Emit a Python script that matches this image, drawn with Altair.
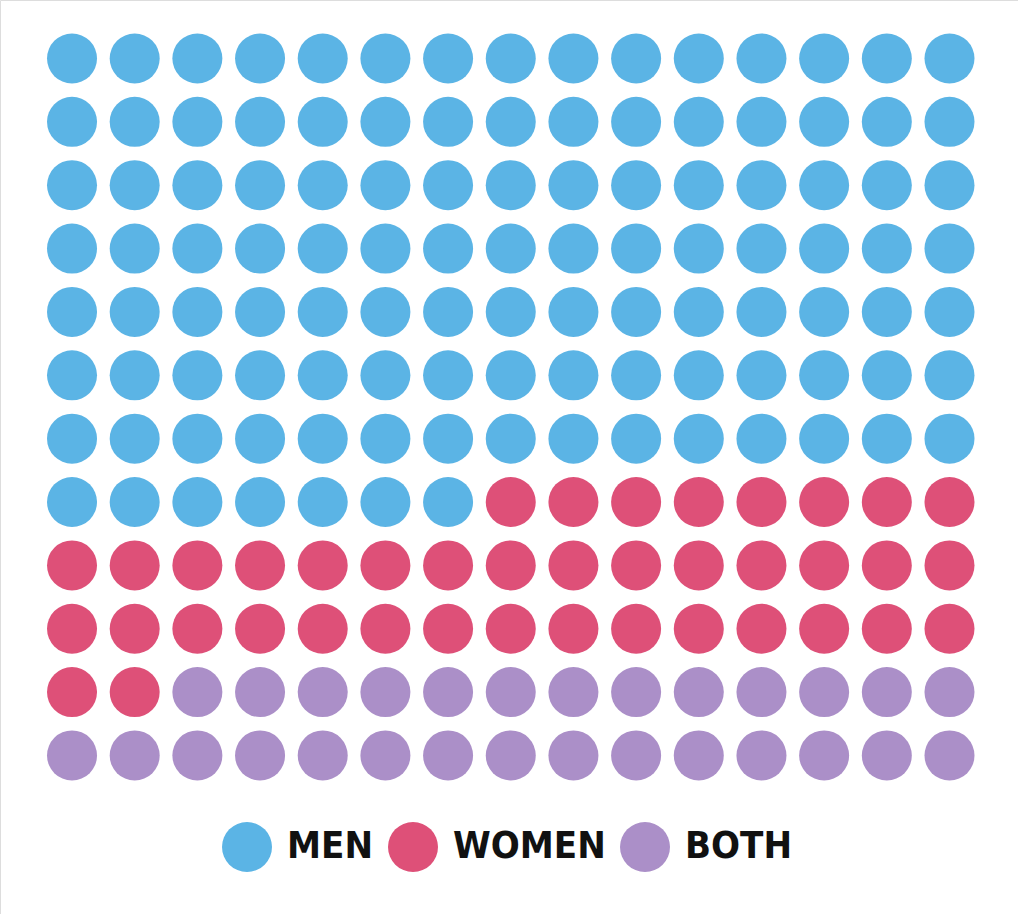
import altair as alt
import pandas as pd

# Waffle grid: 15 columns x 12 rows, filled row by row
n_cols = 15
n_rows = 12
categories = ["MEN", "WOMEN", "BOTH"]
counts = [112, 40, 28]
colors = ["#5BB4E5", "#DE5078", "#AB8FC8"]

cells = []
for cat, n in zip(categories, counts):
    cells += [cat] * n

df = pd.DataFrame({
    "idx": list(range(len(cells))),
    "category": cells,
})
df["col"] = df["idx"] % n_cols
df["row"] = df["idx"] // n_cols

chart = (
    alt.Chart(df)
    .mark_circle(size=2500, opacity=1)
    .encode(
        x=alt.X("col:Q", scale=alt.Scale(domain=[-1.149, 15.093], nice=False, zero=False), axis=None),
        y=alt.Y("row:Q", scale=alt.Scale(domain=[-0.923, 13.502], nice=False, zero=False, reverse=True), axis=None),
        color=alt.Color(
            "category:N",
            scale=alt.Scale(domain=categories, range=colors),
            legend=alt.Legend(
                title=None,
                orient="none",
                direction="horizontal",
                legendX=222,
                legendY=822,
                symbolType="circle",
                symbolSize=2500,
                symbolStrokeWidth=0,
                symbolOpacity=1,
                labelFont="DejaVu Sans Condensed",
                labelFontWeight="bold",
                labelFontSize=38,
                labelColor="#111111",
                labelOffset=15,
                columnPadding=14,
                labelLimit=400,
            ),
        ),
    )
    .properties(width=1018, height=914, padding=0, autosize=alt.AutoSizeParams(type="none"))
    .configure_view(stroke=None)
    .configure(background="white")
)

chart.save("out.html", embed_options={"renderer": "svg", "actions": False})
